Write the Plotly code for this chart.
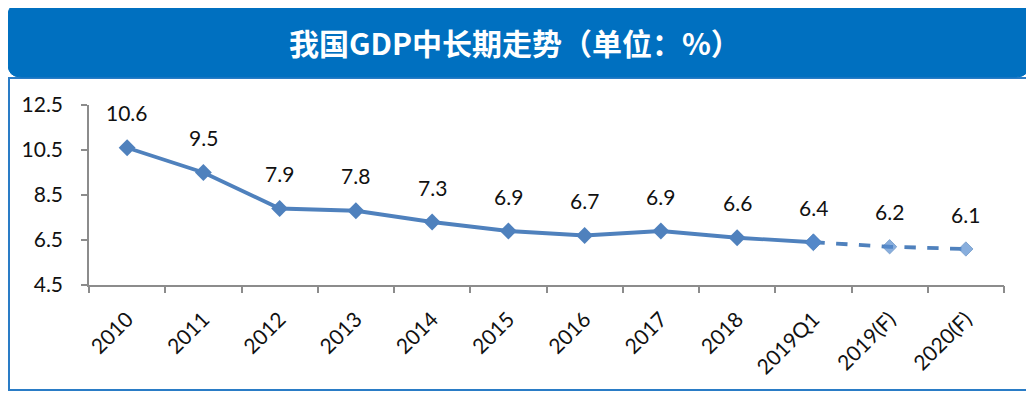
import plotly.graph_objects as go

categories = ["2010", "2011", "2012", "2013", "2014", "2015", "2016", "2017",
              "2018", "2019Q1", "2019(F)", "2020(F)"]
gdp = [10.6, 9.5, 7.9, 7.8, 7.3, 6.9, 6.7, 6.9, 6.6, 6.4, 6.2, 6.1]
labels = ["10.6", "9.5", "7.9", "7.8", "7.3", "6.9", "6.7", "6.9", "6.6", "6.4", "6.2", "6.1"]
y_ticks = [4.5, 6.5, 8.5, 10.5, 12.5]
title_text = "我国GDP中长期走势（单位：%）"

# page body has an 8px default margin; size the figure so it fits the window
OFF = 8
W, H = 1034 - OFF, 399 - 2 * OFF
LINE = "#4F81BD"
FONT = "Lato, 'Liberation Sans', sans-serif"
TXT = "#111111"


def px(x):
    return (x - OFF) / W


def py(y):
    return 1 - (y - OFF) / H


n_actual = categories.index("2019Q1") + 1
idx = list(range(len(categories)))

fig = go.Figure()
fig.add_trace(go.Scatter(
    x=idx[:n_actual], y=gdp[:n_actual], mode="lines+markers",
    line=dict(color=LINE, width=3.8),
    marker=dict(symbol="diamond", size=13, color=LINE),
    hoverinfo="y", showlegend=False))
fc_sizes = [13] + [11] * (len(idx) - n_actual)
fig.add_trace(go.Scatter(
    x=idx[n_actual - 1:], y=gdp[n_actual - 1:], mode="lines+markers",
    line=dict(color=LINE, width=3.8, dash="dash"),
    marker=dict(symbol="diamond", size=fc_sizes, color="#578CCF"),
    hoverinfo="y", showlegend=False))

for i, v, t in zip(idx, gdp, labels):
    fig.add_annotation(x=i, y=v, text=t, showarrow=False, yshift=35,
                       yanchor="middle",
                       font=dict(size=21, color=TXT, family=FONT))


def rounded(x0, y0, x1, y1, r):
    def p(x, y):
        return f"{px(x):.5f},{py(y):.5f}"
    return (f"M {p(x0 + r, y0)} L {p(x1 - r, y0)} Q {p(x1, y0)} {p(x1, y0 + r)} "
            f"L {p(x1, y1 - r)} Q {p(x1, y1)} {p(x1 - r, y1)} "
            f"L {p(x0 + r, y1)} Q {p(x0, y1)} {p(x0, y1 - r)} "
            f"L {p(x0, y0 + r)} Q {p(x0, y0)} {p(x0 + r, y0)} Z")


fig.add_shape(type="rect", xref="paper", yref="paper",
              x0=px(9), x1=px(1028), y0=py(390), y1=py(78),
              fillcolor="white", line=dict(color="#2A7CC6", width=2), layer="below")
fig.add_shape(type="path", xref="paper", yref="paper",
              path=rounded(8, 3, 1029, 77, 13),
              fillcolor="#0070C0", line=dict(color="#0070C0", width=1), layer="below")

fig.add_annotation(xref="paper", yref="paper", x=px(515), y=py(42),
                   xanchor="center", yanchor="middle",
                   text=f"<b>{title_text}</b>", showarrow=False,
                   font=dict(size=30, color="white", family="'Noto Sans CJK SC', sans-serif"))

fig.update_layout(
    template="none",
    width=W, height=H,
    margin=dict(l=0, r=0, t=0, b=0, autoexpand=False),
    paper_bgcolor="white", plot_bgcolor="white",
    xaxis=dict(domain=[px(89), px(1004)], automargin=False,
               tickmode="array", tickvals=idx, ticktext=categories,
               showline=True, linecolor="#8C8C8C", linewidth=1.5,
               ticks="", showgrid=False, zeroline=False,
               tickangle=-45, ticklabelstandoff=12,
               tickfont=dict(size=21, color=TXT, family=FONT),
               range=[-0.5, len(categories) - 0.5]),
    xaxis2=dict(domain=[px(89), px(1004)], automargin=False, overlaying="x",
                anchor="y", side="bottom", range=[-0.5, len(categories) - 0.5],
                tickmode="array", tickvals=[i - 0.5 for i in idx] + [len(idx) - 0.5],
                showticklabels=False, ticks="outside", ticklen=7,
                tickcolor="#8C8C8C", tickwidth=1.5, showgrid=False, zeroline=False,
                showline=False),
    yaxis=dict(domain=[py(285), py(105)], range=[4.5, 12.5], automargin=False,
               tickvals=y_ticks, ticktext=[f"{v:.1f}" for v in y_ticks],
               showline=True, linecolor="#8C8C8C", linewidth=1.5,
               ticks="outside", ticklen=6, tickcolor="#8C8C8C", tickwidth=1.5,
               ticklabelstandoff=14,
               showgrid=False, zeroline=False,
               tickfont=dict(size=21, color=TXT, family=FONT)),
)
fig.add_trace(go.Scatter(x=[0], y=[None], xaxis="x2", yaxis="y",
                         showlegend=False, hoverinfo="skip"))

fig.write_html("out.html")
